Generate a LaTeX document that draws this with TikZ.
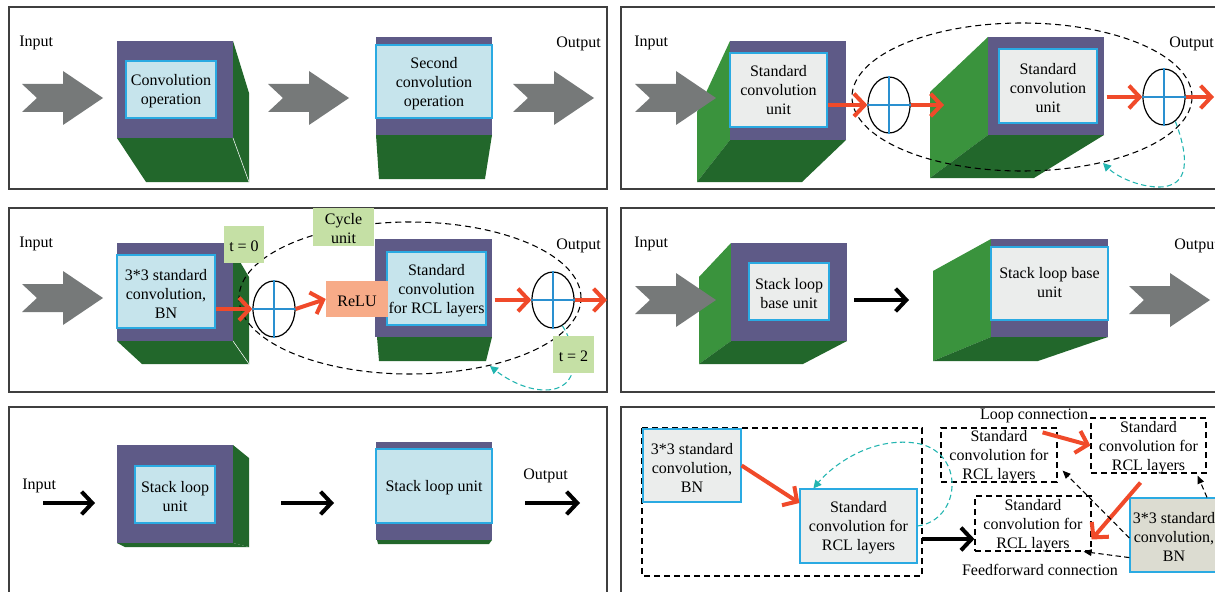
\documentclass[tikz,border=0pt]{standalone}
\usepackage{fontspec}
\setmainfont{Liberation Serif}
\usetikzlibrary{arrows.meta,shapes.geometric,fit,calc}
\definecolor{purp}{HTML}{5E5A87}
\definecolor{dgreen}{HTML}{22672B}
\definecolor{lgreen}{HTML}{3A933D}
\definecolor{lblue}{HTML}{C6E4EC}
\definecolor{cyb}{HTML}{2AAAE2}
\definecolor{lgray}{HTML}{EBEDEC}
\definecolor{garrow}{HTML}{767979}
\definecolor{redc}{HTML}{F04A2A}
\definecolor{glab}{HTML}{C5E0A5}
\definecolor{salm}{HTML}{F7AB88}
\definecolor{beig}{HTML}{DCDCD1}
\definecolor{tealc}{HTML}{22B5B0}
\definecolor{frm}{HTML}{3F3F3F}
\definecolor{crossb}{HTML}{2A90D0}
\newcommand\myfs{\fontsize{12}{14.25}\selectfont}
\tikzset{
  frame/.style={draw=frm, line width=1.1pt},
  lbl/.style={font=\myfs, inner sep=0pt},
  txt/.style={font=\myfs, inner sep=0pt, align=center, yshift=-1.5pt},
  ibox/.style={draw=cyb, line width=0.9pt, inner sep=0pt},
  dbox/.style={draw=black, line width=0.9pt, dash pattern=on 4.5pt off 3pt, inner sep=0pt},
  gbox/.style={fill=glab, inner sep=0pt},
  ell/.style={ellipse, draw=black, line width=0.9pt, minimum width=31.5pt, minimum height=42pt, inner sep=0pt},
  bigell/.style={draw=black, line width=0.8pt, dash pattern=on 4.5pt off 3pt},
  redarr/.style={draw=redc, line width=3pt, -{Straight Barb[length=8pt,width=17pt]}},
  blkarr/.style={draw=black, line width=3pt, -{Straight Barb[length=8pt,width=17pt]}},
  tealarr/.style={draw=tealc, line width=0.8pt, dash pattern=on 4pt off 2.5pt, -{Triangle[length=6pt,width=6pt]}},
  darr/.style={draw=black, line width=0.8pt, dash pattern=on 4pt off 2.5pt, -{Triangle[length=6pt,width=5pt]}},
  garrowpic/.pic={\fill[garrow] (0,-14) -- (41,-14) -- (41,-27) -- (81,0) -- (41,27) -- (41,14) -- (0,14) -- (15,0) -- cycle;}
}
\begin{document}
\begin{tikzpicture}[x=0.75pt,y=-0.75pt]
\useasboundingbox (0,0) rectangle (1215,592);
\clip (0,0) rectangle (1215,592);
\fill[white] (0,0) rectangle (1215,592);

% ================= Panel 1 =================
\draw[frame] (9,7) rectangle (607,189);
\node[lbl, anchor=west] (in1) at (19,43) {Input};
\pic at (22,98) {garrowpic};
\fill[dgreen] (233,41) -- (249,93) -- (249,182) -- (233,138) -- cycle;
\fill[dgreen] (117,138) -- (233,138) -- (249,182) -- (146,182) -- cycle;
\draw[white, line width=0.4pt] (233,138) -- (249,182);
\fill[purp] (117,41) rectangle (233,138);
\node[ibox, fill=lblue, fit={(126,61)(216,118)}] (c1) {};
\node[txt] (c1t) at (c1.center) {Convolution\\operation};
\pic at (268,98) {garrowpic};
\fill[dgreen] (376,135) -- (492,135) -- (485,179) -- (379,179) -- cycle;
\fill[purp] (376,37) rectangle (492,135);
\node[ibox, fill=lblue, fit={(376,45)(492,118)}] (c2) {};
\node[txt] (c2t) at (c2.center) {Second\\convolution\\operation};
\node[lbl, anchor=west] (out1) at (556,44) {Output};
\pic at (513,98) {garrowpic};

% ================= Panel 2 =================
\draw[frame] (621,7) rectangle (1230,189);
\node[lbl, anchor=west] (in2) at (634,43) {Input};
\fill[lgreen] (697,112) -- (730,41) -- (730,140) -- (697,182) -- cycle;
\fill[dgreen] (730,140) -- (846,140) -- (802,182) -- (697,182) -- cycle;
\fill[purp] (730,41) rectangle (846,140);
\node[ibox, fill=lgray, fit={(730,53)(827,127)}] (s1) {};
\node[txt, yshift=1.5pt] (s1t) at (s1.center) {Standard\\convolution\\unit};
\pic at (635,98) {garrowpic};
\fill[lgreen] (930,92) -- (988,37) -- (988,135) -- (930,178) -- cycle;
\fill[dgreen] (988,135) -- (1104,135) -- (1034,178) -- (930,178) -- cycle;
\fill[purp] (988,37) rectangle (1104,135);
\node[ibox, fill=lgray, fit={(999,49)(1097,123)}] (s2) {};
\node[txt] (s2t) at (s2.center) {Standard\\convolution\\unit};
\node[ell] (e1) at (889,105) {};
\draw[crossb, line width=0.8pt] (e1.north) -- (e1.south) (e1.west) -- (e1.east);
\node[ell] (e2) at (1164,97) {};
\draw[crossb, line width=0.8pt] (e2.north) -- (e2.south) (e2.west) -- (e2.east);
\coordinate (cb2) at (944,105);
\coordinate (o2) at (1214,97);
\coordinate (el2b) at (1103,163);
\draw[bigell] (1022,97) ellipse [x radius=127.5pt, y radius=55.5pt];
\draw[redarr] (s1.east |- e1.west) -- (e1.west);
\draw[redarr] (e1.east) -- (cb2);
\draw[redarr] ($(s2.east |- e2.west)+(9,0)$) -- (e2.west);
\draw[redarr] (e2.east) -- (o2);
\draw[tealarr] (e2.-65) .. controls (1188,155) and (1192,188) .. (1157,187) .. controls (1135,186) and (1115,175) .. (el2b);
\node[lbl, anchor=west] (out2) at (1169,44) {Output};

% ================= Panel 3 =================
\draw[frame] (9,208) rectangle (607,392);
\node[lbl, anchor=west] (in3) at (19,244) {Input};
\pic at (22,298) {garrowpic};
\fill[dgreen] (233,250) -- (249,277) -- (249,364) -- (233,341) -- cycle;
\fill[dgreen] (117,341) -- (233,341) -- (249,364) -- (142,364) -- cycle;
\draw[white, line width=0.4pt] (233,341) -- (249,364);
\fill[purp] (117,243) rectangle (233,341);
\node[ibox, fill=lblue, fit={(117,255)(215,328)}] (b3) {};
\node[txt] (b3t) at (b3.center) {3*3 standard\\convolution,\\BN};
\fill[dgreen] (377,337) -- (492,337) -- (486,361) -- (379,361) -- cycle;
\fill[purp] (375,239) rectangle (492,337);
\node[ibox, fill=lblue, fit={(387,252)(486,325)}] (r3) {};
\node[txt] (r3t) at (r3.center) {Standard\\convolution\\for RCL layers};
\node[fill=salm, inner sep=0pt, fit={(326,281)(388,317)}] (relu) {};
\node[txt] (relut) at (relu.center) {ReLU};
\node[ell] (e3a) at (274,309) {};
\draw[crossb, line width=0.8pt] (e3a.north) -- (e3a.south) (e3a.west) -- (e3a.east);
\node[ell] (e3b) at (553,300) {};
\draw[crossb, line width=0.8pt] (e3b.north) -- (e3b.south) (e3b.west) -- (e3b.east);
\coordinate (o3) at (607,300);
\coordinate (el3b) at (490,366);
\draw[bigell] (410,298) ellipse [x radius=128.25pt, y radius=57pt];
\draw[redarr] (b3.east |- e3a.west) -- (e3a.west);
\draw[redarr] (e3a.east) -- (relu.west);
\draw[redarr] ($(r3.east |- e3b.west)+(8,0)$) -- (e3b.west);
\draw[redarr] (e3b.east) -- (o3);
\draw[tealarr] (e3b.-70) .. controls (578,350) and (582,390) .. (545,390) .. controls (525,390) and (505,378) .. (el3b);
\node[gbox, fit={(313,208)(374,246)}] (cyc) {};
\node[txt] (cyct) at (cyc.center) {Cycle\\unit};
\node[gbox, fit={(224,226)(264,263)}] (t0) {};
\node[txt] (t0t) at (t0.center) {t = 0};
\node[gbox, fit={(553,336)(594,373)}] (t2) {};
\node[txt] (t2t) at (t2.center) {t = 2};
\node[lbl, anchor=west] (out3) at (556,246) {Output};

% ================= Panel 4 =================
\draw[frame] (621,208) rectangle (1230,392);
\node[lbl, anchor=west] (in4) at (634,244) {Input};
\fill[lgreen] (699,277) -- (731,243) -- (731,341) -- (699,364) -- cycle;
\fill[dgreen] (731,341) -- (847,341) -- (803,364) -- (699,364) -- cycle;
\fill[purp] (731,243) rectangle (847,341);
\node[ibox, fill=lgray, fit={(749,263)(829,320)}] (sl1) {};
\node[txt] (sl1t) at (sl1.center) {Stack loop\\base unit};
\pic at (635,300) {garrowpic};
\coordinate (k4a) at (854,300);
\coordinate (k4b) at (909,300);
\draw[blkarr] (k4a) -- (k4b);
\fill[lgreen] (933,271) -- (991,239) -- (991,337) -- (933,361) -- cycle;
\fill[dgreen] (991,337) -- (1108,337) -- (1038,361) -- (933,361) -- cycle;
\fill[purp] (991,239) rectangle (1108,337);
\node[ibox, fill=lgray, fit={(991,247)(1108,320)}] (sl2) {};
\node[txt] (sl2t) at ($(sl2.center)+(0,-3)$) {Stack loop base\\unit};
\pic at (1129,300) {garrowpic};
\node[lbl, anchor=west] (out4) at (1174,246) {Output};

% ================= Panel 5 =================
\draw[frame] (9,600) -- (9,407) -- (607,407) -- (607,600);
\node[lbl, anchor=west] (in5) at (22,486) {Input};
\coordinate (k5a) at (43,503);
\coordinate (k5b) at (95,503);
\draw[blkarr] (k5a) -- (k5b);
\fill[dgreen] (233,445) -- (249,458) -- (249,547) -- (233,543) -- cycle;
\fill[dgreen] (117,543) -- (233,543) -- (249,547) -- (125,547) -- cycle;
\fill[purp] (117,445) rectangle (233,543);
\node[ibox, fill=lblue, fit={(135,466)(215,523)}] (u1) {};
\node[txt] (u1t) at (u1.center) {Stack loop\\unit};
\coordinate (k5c) at (281,503);
\coordinate (k5d) at (334,503);
\draw[blkarr] (k5c) -- (k5d);
\fill[dgreen] (377,540) -- (492,540) -- (489,544) -- (378,544) -- cycle;
\fill[purp] (376,442) rectangle (492,540);
\node[ibox, fill=lblue, fit={(376,449)(492,523)}] (u2) {};
\node[txt] (u2t) at (u2.center) {Stack loop unit};
\node[lbl, anchor=west] (out5) at (523,476) {Output};
\coordinate (k5e) at (525,503);
\coordinate (k5f) at (580,503);
\draw[blkarr] (k5e) -- (k5f);

% ================= Panel 6 =================
\draw[frame] (621,600) -- (621,407) -- (1230,407);
\draw[black, line width=0.9pt, dash pattern=on 4.5pt off 3pt] (642,428) rectangle (922,576);
\node[ibox, fill=lgray, fit={(643,429)(741,502)}] (g1) {};
\node[txt] (g1t) at (g1.center) {3*3 standard\\convolution,\\BN};
\node[ibox, fill=lgray, fit={(800,489)(917,563)}] (g2) {};
\node[txt] (g2t) at (g2.center) {Standard\\convolution for\\RCL layers};
\node[dbox, fit={(941,428)(1057,482)}] (A) {};
\node[txt] (At) at (A.center) {Standard\\convolution for\\RCL layers};
\node[dbox, fit={(1091,418)(1206,473)}] (B) {};
\node[txt] (Bt) at (B.center) {Standard\\convolution for\\RCL layers};
\node[dbox, fit={(975,496)(1091,551)}] (C) {};
\node[txt] (Ct) at (C.center) {Standard\\convolution for\\RCL layers};
\node[ibox, fill=beig, fit={(1130,498)(1220,572)}] (D) {};
\node[txt] (Dt) at ($(D.center)+(-1,0)$) {3*3 standard\\convolution,\\BN};
\node[lbl] (loop) at (1034,416) {Loop connection};
\node[lbl] (ffw) at (1040,570) {Feedforward connection};
\draw[redarr] (g1.east) -- ($(g2.west)+(0,-23)$);
\draw[tealarr] (g2.east) .. controls (962,520) and (966,450) .. (915,443) .. controls (870,437) and (832,466) .. ($(g2.north west)+(14,0)$);
\coordinate (k6a) at (922,539);
\draw[blkarr] (k6a) -- (k6a -| C.west);
\draw[redarr] ($(A.north east)+(-15,5)$) -- (B.west);
\draw[redarr] ($(B.south)+(-8,9)$) -- ($(C.east)+(0,16)$);
\draw[darr] ($(D.south west)+(0,-15)$) -- ($(C.south east)+(-8,0)$);
\draw[darr] ($(D.west)+(0,3)$) -- ($(A.south east)+(5,-12)$);
\draw[darr] ($(D.north)+(32,0)$) -- ($(B.south east)+(-9,2)$);
\end{tikzpicture}
\end{document}
